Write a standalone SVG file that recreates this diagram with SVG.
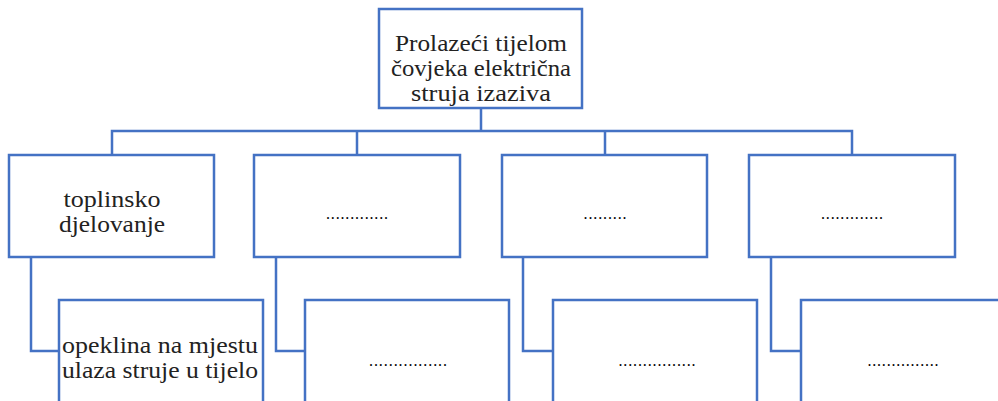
<svg xmlns="http://www.w3.org/2000/svg" width="998" height="401" viewBox="0 0 998 401">
<style>
.box{fill:#fff;stroke:#4472C4;stroke-width:2.5}
.con{fill:none;stroke:#4472C4;stroke-width:2.5}
.t{font-family:'Liberation Serif',Tinos,'Times New Roman','DejaVu Serif',serif;font-size:23px;fill:#222;text-anchor:middle}
.dots{font-family:'Liberation Serif',Tinos,'Times New Roman',serif;font-size:16px;fill:#000;text-anchor:middle}
</style>
<rect width="998" height="401" fill="#fff"/>
<g id="connectors">
<path class="con" d="M481,108 V131 M112,155 V131 H852 V155 M357,131 V155 M605,131 V155"/>
<path class="con" d="M31,257 V351 H59"/>
<path class="con" d="M276,257 V351 H305"/>
<path class="con" d="M523,257 V351 H553"/>
<path class="con" d="M771,257 V351 H801"/>
</g>
<g id="root">
<rect class="box" x="379" y="9" width="203" height="99"/>
<text class="t" x="481" y="51" textLength="172" lengthAdjust="spacingAndGlyphs">Prolazeći tijelom</text>
<text class="t" x="481" y="76" textLength="180" lengthAdjust="spacingAndGlyphs">čovjeka električna</text>
<text class="t" x="481" y="101" textLength="140" lengthAdjust="spacingAndGlyphs">struja izaziva</text>
</g>
<g id="n1">
<rect class="box" x="9" y="155" width="205" height="102"/>
<text class="t" x="112" y="207" textLength="97" lengthAdjust="spacingAndGlyphs">toplinsko</text>
<text class="t" x="112" y="232" textLength="106" lengthAdjust="spacingAndGlyphs">djelovanje</text>
</g>
<g id="n2">
<rect class="box" x="254" y="155" width="206" height="102"/>
<text class="dots" x="357" y="219" textLength="62" lengthAdjust="spacing">.............</text>
</g>
<g id="n3">
<rect class="box" x="502" y="155" width="205" height="102"/>
<text class="dots" x="605" y="219" textLength="43" lengthAdjust="spacing">.........</text>
</g>
<g id="n4">
<rect class="box" x="749" y="155" width="206" height="102"/>
<text class="dots" x="852" y="219" textLength="62" lengthAdjust="spacing">.............</text>
</g>
<g id="n1a">
<rect class="box" x="59" y="300" width="204" height="110"/>
<text class="t" x="160" y="353" textLength="196" lengthAdjust="spacingAndGlyphs">opeklina na mjestu</text>
<text class="t" x="160" y="378" textLength="196" lengthAdjust="spacingAndGlyphs">ulaza struje u tijelo</text>
</g>
<g id="n2a">
<rect class="box" x="305" y="300" width="204" height="110"/>
<text class="dots" x="408" y="366" textLength="78" lengthAdjust="spacing">................</text>
</g>
<g id="n3a">
<rect class="box" x="553" y="300" width="204" height="110"/>
<text class="dots" x="657" y="366" textLength="77" lengthAdjust="spacing">................</text>
</g>
<g id="n4a">
<rect class="box" x="801" y="300" width="204" height="110"/>
<text class="dots" x="903" y="366" textLength="71" lengthAdjust="spacing">...............</text>
</g>
</svg>
